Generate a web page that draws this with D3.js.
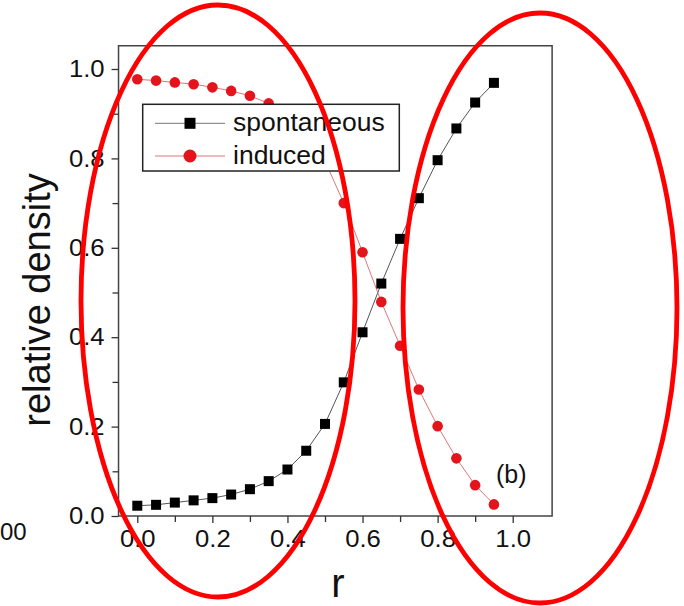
<!DOCTYPE html>
<html>
<head>
<meta charset="utf-8">
<script src="https://cdn.jsdelivr.net/npm/d3@7/dist/d3.min.js"></script>
<style>
  html, body { margin: 0; padding: 0; background: #fff; }
  svg { display: block; }
  text { font-family: "Liberation Sans", Arial, sans-serif; fill: #111; }
</style>
</head>
<body>
<svg id="chart" width="684" height="606"></svg>
<script>
// Relative density of spontaneous vs. induced emission as a function of r
const rValues = [0.00, 0.05, 0.10, 0.15, 0.20, 0.25, 0.30, 0.35, 0.40, 0.45,
                 0.50, 0.55, 0.60, 0.65, 0.70, 0.75, 0.80, 0.85, 0.90, 0.95];
const spontaneous = [0.023, 0.025, 0.030, 0.035, 0.040, 0.048, 0.060, 0.078, 0.104, 0.146,
                     0.206, 0.299, 0.411, 0.520, 0.620, 0.711, 0.796, 0.867, 0.925, 0.969];
const induced = [0.977, 0.974, 0.970, 0.966, 0.959, 0.951, 0.940, 0.923, 0.896, 0.854,
                 0.794, 0.700, 0.590, 0.479, 0.381, 0.283, 0.201, 0.129, 0.069, 0.026];
const seriesNames = ["spontaneous", "induced"];
const xMajorTicks = [0.0, 0.2, 0.4, 0.6, 0.8, 1.0];
const xMinorTicks = [0.1, 0.3, 0.5, 0.7, 0.9];
const yMajorTicks = [0.0, 0.2, 0.4, 0.6, 0.8, 1.0];
const yMinorTicks = [0.1, 0.3, 0.5, 0.7, 0.9];
const panelLabel = "(b)";

const svg = d3.select("#chart");

const x = d3.scaleLinear().domain([0, 1]).range([137.3, 512.7]);
const y = d3.scaleLinear().domain([0, 1]).range([516, 69]);
const xMin = -0.05, xMax = 1.105, yMin = 0, yMax = 1.052;

const frameL = x(xMin), frameR = x(xMax), frameT = y(yMax), frameB = y(yMin);

// plot frame
svg.append("rect")
  .attr("x", frameL).attr("y", frameT)
  .attr("width", frameR - frameL).attr("height", frameB - frameT)
  .attr("fill", "none").attr("stroke", "#444").attr("stroke-width", 1.5);

// axes (tick labels slightly widened, like the original typeface)
const tickFont = "24px";
function styleAxis(g) {
  g.select(".domain").remove();
  g.selectAll(".tick line").attr("stroke", "#333").attr("stroke-width", 1.3);
  g.selectAll(".tick text").style("font-size", tickFont)
    .style("font-family", '"Liberation Sans", Arial, sans-serif').attr("fill", "#111")
    .attr("transform", "scale(1.07,1)");
}
svg.append("g").attr("transform", `translate(0,${frameB})`)
  .call(d3.axisBottom(x).tickValues(xMajorTicks).tickFormat(d3.format(".1f"))
    .tickSize(7).tickPadding(7))
  .call(styleAxis);
svg.append("g").attr("transform", `translate(0,${frameB})`)
  .call(d3.axisBottom(x).tickValues(xMinorTicks).tickFormat("").tickSize(6))
  .call(styleAxis);
svg.append("g").attr("transform", `translate(${frameL},0)`)
  .call(d3.axisLeft(y).tickValues(yMajorTicks).tickFormat(d3.format(".1f"))
    .tickSize(7).tickPadding(6))
  .call(styleAxis);
svg.append("g").attr("transform", `translate(${frameL},0)`)
  .call(d3.axisLeft(y).tickValues(yMinorTicks).tickFormat("").tickSize(6))
  .call(styleAxis);

// axis titles
svg.append("text")
  .attr("transform", "translate(50,300) rotate(-90)")
  .attr("text-anchor", "middle")
  .style("font-size", "38px")
  .text("relative density");
svg.append("text")
  .attr("x", 338).attr("y", 597)
  .attr("text-anchor", "middle")
  .style("font-size", "40px")
  .text("r");

// fragment of neighbouring panel's tick label
svg.append("text")
  .attr("x", 0).attr("y", 540)
  .style("font-size", "24px")
  .text("00");

// series
const line = d3.line().x(d => x(d[0])).y(d => y(d[1]));
const spData = rValues.map((r, i) => [r, spontaneous[i]]);
const inData = rValues.map((r, i) => [r, induced[i]]);

svg.append("path").datum(spData).attr("d", line)
  .attr("fill", "none").attr("stroke", "#555").attr("stroke-width", 1);
svg.append("path").datum(inData).attr("d", line)
  .attr("fill", "none").attr("stroke", "#d87878").attr("stroke-width", 1);

const sq = 10;
svg.append("g").selectAll("rect").data(spData).join("rect")
  .attr("x", d => x(d[0]) - sq / 2).attr("y", d => y(d[1]) - sq / 2)
  .attr("width", sq).attr("height", sq).attr("fill", "#000");
svg.append("g").selectAll("circle").data(inData).join("circle")
  .attr("cx", d => x(d[0])).attr("cy", d => y(d[1])).attr("r", 5.3)
  .attr("fill", "#e3141c");

// legend
const lg = svg.append("g");
lg.append("rect").attr("x", 142.7).attr("y", 104.3).attr("width", 256.6).attr("height", 66.7)
  .attr("fill", "#fff").attr("stroke", "#222").attr("stroke-width", 1.5);
const rowsY = [123.3, 156];
lg.append("line").attr("x1", 155).attr("x2", 225).attr("y1", rowsY[0]).attr("y2", rowsY[0])
  .attr("stroke", "#777").attr("stroke-width", 1);
lg.append("rect").attr("x", 190 - 5.5).attr("y", rowsY[0] - 5.5).attr("width", 11).attr("height", 11)
  .attr("fill", "#000");
lg.append("line").attr("x1", 155).attr("x2", 225).attr("y1", rowsY[1]).attr("y2", rowsY[1])
  .attr("stroke", "#d87878").attr("stroke-width", 1);
lg.append("circle").attr("cx", 190).attr("cy", rowsY[1]).attr("r", 6.5).attr("fill", "#e3141c");
lg.selectAll("text.lab").data(seriesNames).join("text").attr("class", "lab")
  .attr("x", 233).attr("y", (d, i) => rowsY[i] + 7.5)
  .style("font-size", "26.5px")
  .text(d => d);

// panel label
svg.append("text").attr("x", 496).attr("y", 483)
  .style("font-size", "25px").text(panelLabel);

// highlighting ellipses
const marks = svg.append("g").attr("fill", "none").attr("stroke", "#f00").attr("stroke-width", 4.8);
marks.append("ellipse").attr("cx", 218).attr("cy", 301).attr("rx", 137).attr("ry", 296);
marks.append("ellipse").attr("cx", 540).attr("cy", 308).attr("rx", 137).attr("ry", 295);
</script>
</body>
</html>
